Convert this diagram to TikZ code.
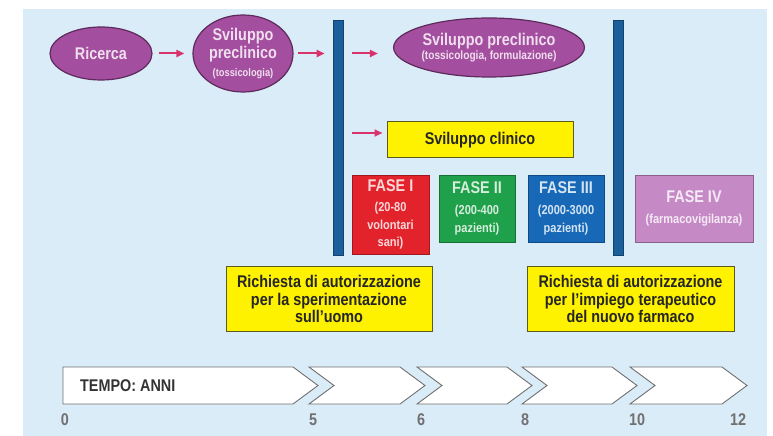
\documentclass[tikz,border=0pt]{standalone}
\usepackage{fontspec}
\setmainfont{Liberation Sans}[FakeStretch=0.85]
\usetikzlibrary{shapes.geometric,arrows.meta}

\definecolor{bgblue}{HTML}{DAECF7}
\definecolor{ovalfill}{HTML}{A44E9F}
\definecolor{ovalline}{HTML}{5E2A5C}
\definecolor{arrowred}{HTML}{D9336B}
\definecolor{barblue}{HTML}{1A5E9C}
\definecolor{reqyellow}{HTML}{FFF200}
\definecolor{reqline}{HTML}{5D5A1E}
\definecolor{faseone}{HTML}{E3232C}
\definecolor{fasetwo}{HTML}{1FA04A}
\definecolor{fasethree}{HTML}{1769B8}
\definecolor{fasefour}{HTML}{C58AC6}
\definecolor{timegray}{HTML}{707070}

\newcommand{\subfont}{\fontsize{13}{15.5}\selectfont}

\begin{document}
\begin{tikzpicture}[x=1bp, y=-1bp, font=\bfseries\fontsize{17}{18}\selectfont,
	oval node/.style={ellipse, draw=ovalline, line width=1.2bp, fill=ovalfill, text=white!82!ovalfill, inner sep=0pt, align=center},
	bar node/.style={rectangle, fill=barblue, draw=barblue!70!black, line width=0.6bp, minimum width=10bp, minimum height=235bp, inner sep=0pt},
	yellow box/.style={rectangle, fill=reqyellow, draw=reqline, line width=1bp, inner sep=0pt, align=center, text=black!85},
	fase box/.style={rectangle, fill=#1, draw=#1!70!black, line width=0.8bp, inner sep=0pt, align=center, text=white!82!#1, minimum height=67bp, minimum width=76bp},
	time arrow/.style={fill=white, draw=timegray, line width=0.9bp, line join=miter},
	year/.style={text=timegray, inner sep=0pt},
	flow/.style={draw=arrowred, line width=2bp, -{Triangle[length=8bp, width=7bp]}}]

	\useasboundingbox (0,0) rectangle (773,436);
	\fill[bgblue] (23,9) rectangle (767,436);

	% top row
	\node[oval node, minimum width=102bp, minimum height=53bp] (ric) at (101,53.5) {Ricerca};
	\node[oval node, minimum width=100bp, minimum height=77bp] (pre) at (243,53.5)
		{Sviluppo\\preclinico\\\fontsize{11}{14}\selectfont (tossicologia)};
	\node[bar node] (bar1) at (338,137.5) {};
	\node[bar node] (bar2) at (618,137.5) {};
	\node[oval node, minimum width=162bp, minimum height=59bp] (tox) at (489,47.5)
		{Sviluppo preclinico\\[-4bp]\fontsize{12}{13}\selectfont (tossicologia, formulazione)};
	\node[yellow box, minimum width=186bp, minimum height=36bp] (clin) at (480,140) {Sviluppo clinico};
	\coordinate (clinin) at ([yshift=7bp]clin.west);

	% fasi
	\node[fase box=faseone, minimum width=77bp, minimum height=79bp] (f1) at (390.5,214.5)
		{FASE I\\[2bp]\subfont (20-80\\\subfont volontari\\\subfont sani)};
	\node[fase box=fasetwo] (f2) at (477,208.5) {FASE II\\[3bp]\subfont (200-400\\\subfont pazienti)};
	\node[fase box=fasethree] (f3) at (566,208.5) {FASE III\\[3bp]\subfont (2000-3000\\\subfont pazienti)};
	\node[fase box=fasefour, minimum width=118bp] (f4) at (694,208.5) {FASE IV\\[3bp]\subfont (farmacovigilanza)};

	% richieste
	\node[yellow box, minimum width=206bp, minimum height=64bp] (req1) at (329,299)
		{Richiesta di autorizzazione\\per la sperimentazione\\sull'uomo};
	\node[yellow box, minimum width=207bp, minimum height=64bp] (req2) at (630.5,299)
		{Richiesta di autorizzazione\\per l'impiego terapeutico\\del nuovo farmaco};

	% frecce
	\path
		(ric) edge[flow, shorten <=6bp, shorten >=8bp] (pre)
		(pre.east) edge[flow, shorten <=4bp, shorten >=8bp] (pre.east -| bar1.west)
		(bar1.east |- pre) edge[flow, shorten <=9bp, shorten >=15bp] (tox.west |- pre)
		(bar1.east |- clinin) edge[flow, shorten <=9bp, shorten >=4bp] (clinin);

	% tempo
	\draw[time arrow] (63,367) -- (293,367) -- (318,385.5) -- (293,404) -- (63,404) -- cycle;
	\foreach \l/\r in {309/425, 417/532, 522/637, 630/747}
		\draw[time arrow] (\l,367) -- (\r-25,367) -- (\r,385.5) -- (\r-25,404) -- (\l,404) -- (\l+25,385.5) -- cycle;
	\node[anchor=west, text=black!80, inner sep=0pt] (tempo) at (80,385.5) {TEMPO: ANNI};
	\foreach \x/\y in {65/0, 313/5, 421/6, 525/8, 637/10, 738/12}
		\node[year] (y\y) at (\x,420) {\y};
\end{tikzpicture}
\end{document}
